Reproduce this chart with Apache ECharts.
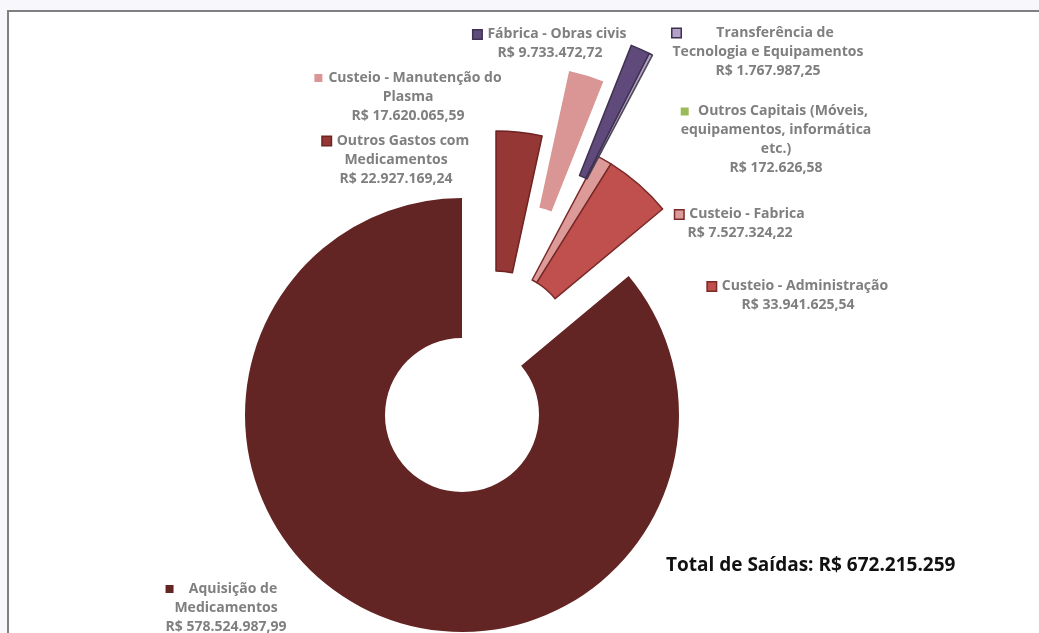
<!DOCTYPE html>
<html>
<head>
<meta charset="utf-8">
<script src="https://cdn.jsdelivr.net/npm/echarts@6/dist/echarts.min.js"></script>
<style>
    html, body { margin: 0; padding: 0; overflow: hidden; background: #f8f8fc; }
    #frame { position: absolute; left: 7px; top: 10px; right: -20px; bottom: -20px; background: #fff; border-left: 2px solid #808080; border-top: 2px solid #808080; }
    #chart { position: absolute; left: 0; top: 0; width: 1039px; height: 633px; }
</style>
</head>
<body>
<div id="frame"></div>
<div id="chart"></div>
<script>
// saidas por categoria, na ordem do grafico (sentido horario a partir do topo)
var categories = [
    'Outros Gastos com\nMedicamentos',
    'Custeio - Manutenção do\nPlasma',
    'Fábrica - Obras civis',
    'Transferência de\nTecnologia e Equipamentos',
    'Outros Capitais (Móveis,\nequipamentos, informática\netc.)',
    'Custeio - Fabrica',
    'Custeio - Administração',
    'Aquisição de\nMedicamentos'
];
var values = [22927169.24, 17620065.59, 9733472.72, 1767987.25, 172626.58, 7527324.22, 33941625.54, 578524987.99];

// estilo
var colors = ['#953735', '#d99694', '#604a7b', '#b3a2c7', '#9bbb59', '#dc9a98', '#c0504d', '#632523'];
var borders = ['#6e2422', null, '#3f3151', '#3f3151', null, '#7a2a28', '#7a2a28', null];
var group = [1, 2, 3, 3, 3, 1, 1, 0];           // fatia destacada: grupo de deslocamento
var shifts = [[0, 0], [34, -67], [61, -132], [89, -168]];
var CENTER = [462, 415];
var labelPos = [[396, 160], [408, 97], [550, 44], [768, 52], [776, 140], [740, 224], [798, 296], [226, 608]];
var FONT = 'Open Sans';
var HIDDEN = 'rgba(0,0,0,0)';

function fmt(v, dec) {
    var parts = v.toFixed(dec).split('.');
    var s = parts[0].replace(/\B(?=(\d{3})+(?!\d))/g, '.');
    return dec ? s + ',' + parts[1] : s;
}

function labelText(i) {
    var lines = categories[i].split('\n');
    lines.push('R$ ' + fmt(values[i], 2));
    var out = '{k|}{g|}';
    for (var j = 0; j < lines.length; j++) {
        out += (j ? '\n' : '') + '{t|' + lines[j] + '}';
    }
    return out;
}

var total = 0;
for (var i = 0; i < values.length; i++) total += values[i];

// uma serie por grupo de deslocamento; os rotulos ficam na serie sem deslocamento
var series = shifts.map(function (sh, g) {
    return {
        type: 'pie',
        center: [CENTER[0] + sh[0], CENTER[1] + sh[1]],
        radius: [77, 217],
        startAngle: 90,
        clockwise: true,
        avoidLabelOverlap: false,
        silent: true,
        animation: false,
        labelLayout: function (p) {
            var pos = labelPos[p.dataIndex];
            return { x: pos[0], y: pos[1], align: 'center', verticalAlign: 'middle', hideOverlap: false };
        },
        data: categories.map(function (c, i) {
            var mine = group[i] === g;
            return {
                name: c,
                value: values[i],
                itemStyle: mine ? {
                    color: colors[i],
                    borderColor: borders[i] || colors[i],
                    borderWidth: borders[i] ? 1.5 : 0
                } : { color: HIDDEN, borderColor: HIDDEN, borderWidth: 0 },
                labelLine: { show: false },
                label: {
                    show: g === 0,
                    align: 'center',
                    formatter: labelText(i),
                    rich: {
                        k: {
                            width: 8, height: 8, align: 'left', lineHeight: 19,
                            backgroundColor: colors[i],
                            borderColor: borders[i] || colors[i],
                            borderWidth: borders[i] ? 1.5 : 0
                        },
                        g: { width: 6, align: 'left', lineHeight: 19 },
                        t: { fontFamily: FONT, fontWeight: 'bold', fontSize: 14, color: '#7f7f7f', lineHeight: 19, align: 'center' }
                    }
                }
            };
        })
    };
});

var myChart = echarts.init(document.getElementById('chart'));
var option = {
    backgroundColor: 'transparent',
    title: {
        text: 'Total de Saídas: R$ ' + fmt(total, 0),
        left: 661,
        top: 551,
        textStyle: { fontFamily: FONT, fontWeight: 'bold', fontSize: 19, color: '#111' }
    },
    series: series
};
myChart.setOption(option);
</script>
</body>
</html>
